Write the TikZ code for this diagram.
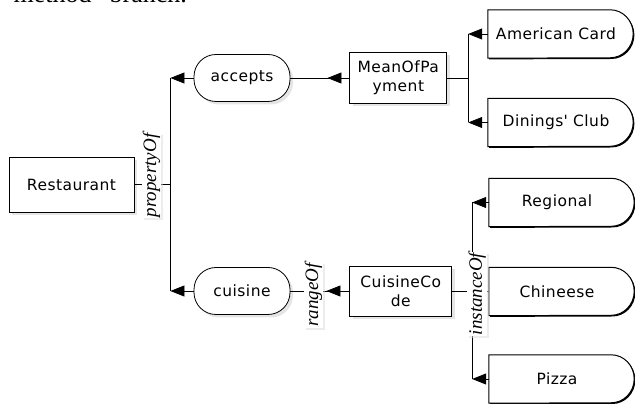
\documentclass[tikz,border=0pt]{standalone}
\usepackage{fontspec}
\setmainfont{Liberation Serif}
\newfontfamily\boxfont[LetterSpace=3]{DejaVu Sans}
\usepackage{tikz}
\usetikzlibrary{arrows.meta,positioning,shadows,backgrounds,decorations.markings}

\begin{document}
\begin{tikzpicture}[x=1pt, y=1pt,
          concept/.style={draw, line width=0.8pt, fill=white,
                          minimum width=125pt, minimum height=55pt,
                          font=\boxfont\fontsize{15.5}{19}\selectfont,
                          align=center, inner sep=2pt,
                          drop shadow={fill=gray!40, shadow xshift=3pt, shadow yshift=-3pt}},
          relation/.style={concept, rounded corners=22pt,
                           minimum width=96pt, minimum height=47pt},
          instance/.style={minimum width=136pt, minimum height=48pt, inner sep=0pt,
                           font=\boxfont\fontsize{15.5}{19}\selectfont},
          dshape/.style={draw, line width=1pt, fill=white,
                         drop shadow={fill=black, opacity=1, shadow xshift=1.2pt, shadow yshift=-1.2pt}},
          link/.style={line width=0.8pt},
          arr/.style={link, -{Triangle[length=14pt, width=11pt]}},
          midarr/.style={link, postaction={decorate},
                         decoration={markings, mark=at position #1 with {\arrow{Triangle[length=14pt, width=11pt]}}}},
          lbl/.style={font=\itshape\fontsize{19}{19}\selectfont, rotate=90,
                      fill=white, inner sep=1pt,
                      drop shadow={fill=gray!30, shadow xshift=2pt, shadow yshift=-2pt}}
        ]
          \useasboundingbox (0,0) rectangle (635,404);
          \node[anchor=base west, font=\fontsize{26}{30}\selectfont] (caption) at (-1.5,401.5) {“method” branch.};

          \node[concept] (rest) at (71.5,219.5) {Restaurant};
          \node[relation] (acc) at (242,326) {accepts};
          \node[relation] (cui) at (242,113) {cuisine};
          \node[concept, right=59pt of acc, minimum width=97pt, minimum height=51pt] (mop) {MeanOfPa\\yment};
          \node[concept, right=59pt of cui, minimum width=102pt, minimum height=50pt] (cc) {CuisineCo\\de};

          \node[instance] (amc) at (556,370) {American Card};
          \node[instance] (din) at (556,281.5) {Dinings\textquotesingle\ Club};
          \node[instance] (reg) at (557,201.5) {Regional};
          \node[instance] (chi) at (557,112.5) {Chineese};
          \node[instance] (piz) at (557,25) {Pizza};
          % D-shaped outlines behind the instance texts
          \begin{scope}[on background layer]
            \foreach \n in {amc,din,reg,chi,piz}
              \path[dshape] (\n.north west) -- ([xshift=-14pt]\n.north east)
                arc[start angle=90, end angle=-90, x radius=23pt, y radius=24pt]
                -- (\n.south west) -- cycle;
          \end{scope}

          \coordinate[right=36pt of rest.east] (pj);
          \coordinate[right=21pt of mop.east] (mj);
          \coordinate[right=20pt of cc.east] (cj);

          \draw[link] (rest) -- (pj);
          \draw[link] (acc -| pj) -- (cui -| pj);
          \draw[arr]  (acc) -- (acc -| pj);
          \draw[arr]  (cui) -- (cui -| pj);
          \draw[midarr=22pt] (mop) -- (acc);
          \draw[midarr=23pt] (cc) -- (cui);

          \draw[link] (mop) -- (mj);
          \draw[link] (amc -| mj) -- (din -| mj);
          \draw[arr]  (amc) -- (amc -| mj);
          \draw[arr]  (din) -- (din -| mj);

          \draw[link] (cc) -- (cj);
          \draw[link] (reg -| cj) -- (piz -| cj);
          \draw[arr]  (reg) -- (reg -| cj);
          \draw[arr]  (chi) -- (chi -| cj);
          \draw[arr]  (piz) -- (piz -| cj);

          \node[lbl] (propof) at ([xshift=17pt, yshift=9pt]rest.east) {propertyOf};
          \node[lbl] (rangeof) at ([xshift=23pt, yshift=-4pt]cui.east) {rangeOf};
          \node[lbl] (instof) at ([xshift=5pt, yshift=-3pt]cj) {instanceOf};
        \end{tikzpicture}
\end{document}
